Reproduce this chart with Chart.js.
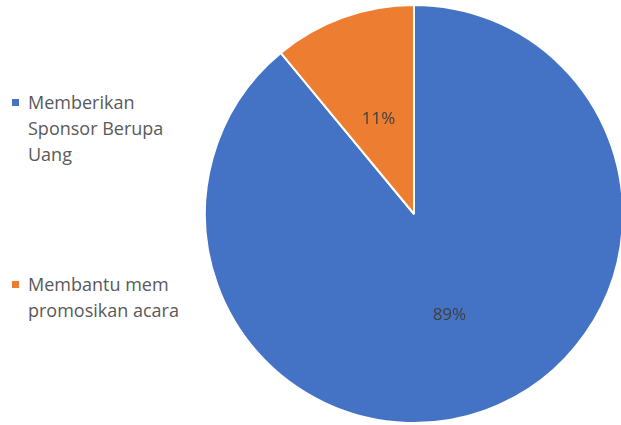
<!DOCTYPE html>
<html>
<head>
<meta charset="utf-8">
<script src="https://cdn.jsdelivr.net/npm/chart.js@4/dist/chart.umd.min.js"></script>
<style>
  html, body { margin: 0; padding: 0; width: 621px; height: 425px; overflow: hidden; background: #fff; }
  #pieWrap { position: absolute; left: 204px; top: 4px; width: 420px; height: 420px; }
  #legend { position: absolute; left: 12px; top: 0; font-family: "Open Sans", sans-serif; font-size: 18px; color: #595959; }
  .item { position: absolute; left: 0; width: 200px; line-height: 26px; }
  .swatch { position: absolute; left: 0; top: 10px; width: 7px; height: 7px; }
  .text { margin-left: 16px; }
</style>
</head>
<body>
<div id="legend"></div>
<div id="pieWrap"><canvas id="pieChart"></canvas></div>
<script>
  // Data
  const labels = ['Memberikan Sponsor Berupa Uang', 'Membantu mem promosikan acara'];
  const legendLines = [['Memberikan', 'Sponsor Berupa', 'Uang'], ['Membantu mem', 'promosikan acara']];
  const values = [89, 11];
  const colors = ['#4472C4', '#ED7D31'];
  const legendTops = [89, 271];

  // Legend built as plain html on the left
  const legendEl = document.getElementById('legend');
  labels.forEach((label, i) => {
    const item = document.createElement('div');
    item.className = 'item';
    item.style.top = legendTops[i] + 'px';
    item.innerHTML = `<span class="swatch" style="background:${colors[i]}"></span>` +
      `<div class="text">${legendLines[i].join('<br>')}</div>`;
    legendEl.appendChild(item);
  });

  // Percent labels in the middle of each slice
  const sliceLabels = {
    id: 'sliceLabels',
    afterDatasetsDraw(chart) {
      const ctx = chart.ctx;
      const total = values.reduce((a, b) => a + b, 0);
      ctx.save();
      ctx.font = '17px "Open Sans", sans-serif';
      ctx.fillStyle = '#404040';
      ctx.textAlign = 'center';
      ctx.textBaseline = 'middle';
      chart.getDatasetMeta(0).data.forEach((arc, i) => {
        const pos = arc.tooltipPosition();
        ctx.fillText(Math.round(values[i] / total * 100) + '%', pos.x, pos.y + 3);
      });
      ctx.restore();
    }
  };

  new Chart(document.getElementById('pieChart'), {
    type: 'pie',
    data: {
      labels: labels,
      datasets: [{
        data: values,
        backgroundColor: colors,
        borderColor: '#ffffff',
        borderWidth: 2
      }]
    },
    options: {
      responsive: true,
      maintainAspectRatio: false,
      animation: false,
      layout: { padding: 0 },
      plugins: {
        legend: { display: false },
        tooltip: { enabled: false }
      }
    },
    plugins: [sliceLabels]
  });
</script>
</body>
</html>
